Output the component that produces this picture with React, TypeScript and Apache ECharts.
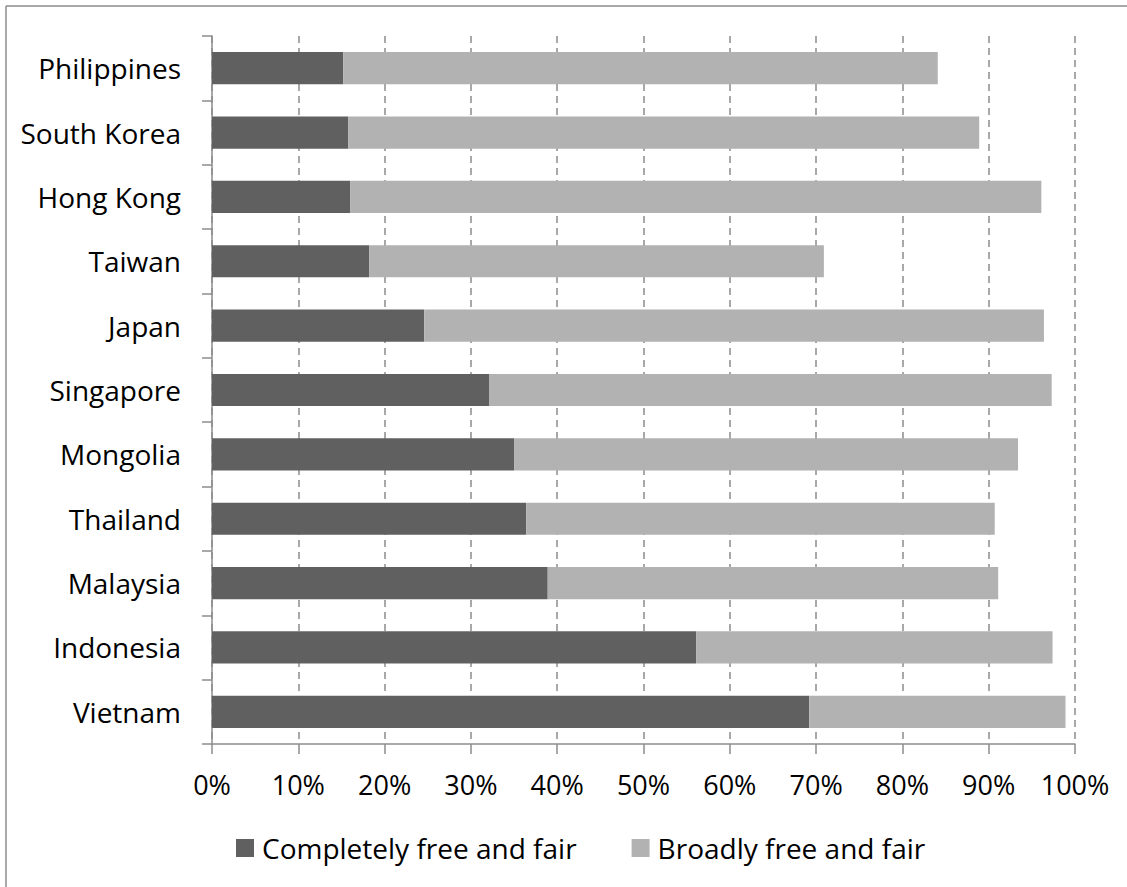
import React, { useEffect, useRef } from "react";
import * as echarts from "echarts";

const categories = [
  "Philippines",
  "South Korea",
  "Hong Kong",
  "Taiwan",
  "Japan",
  "Singapore",
  "Mongolia",
  "Thailand",
  "Malaysia",
  "Indonesia",
  "Vietnam",
];
const completelyFree = [15.2, 15.8, 16.0, 18.2, 24.6, 32.1, 35.0, 36.4, 38.9, 56.1, 69.2];
const broadlyFree = [68.9, 73.1, 80.1, 52.7, 71.8, 65.2, 58.4, 54.3, 52.2, 41.3, 29.7];
const xTicks = [0, 10, 20, 30, 40, 50, 60, 70, 80, 90, 100];

const FONT = "'Open Sans', Lato, sans-serif";

export default function App() {
  const ref = useRef<HTMLDivElement>(null);
  useEffect(() => {
    document.body.style.margin = "0";
    const chart = echarts.init(ref.current!, null, { renderer: "svg" });
    chart.setOption({
      animation: false,
      backgroundColor: "#ffffff",
      textStyle: { fontFamily: FONT },
      graphic: [
        {
          type: "line",
          shape: { x1: 6, y1: 6, x2: 1127, y2: 6 },
          style: { stroke: "#8c8c8c", lineWidth: 1.5 },
        },
        {
          type: "line",
          shape: { x1: 6, y1: 6, x2: 6, y2: 887 },
          style: { stroke: "#8c8c8c", lineWidth: 1.5 },
        },
      ],
      grid: { left: 212, right: 52, top: 36, bottom: 143, containLabel: false },
      legend: {
        left: 231,
        top: 829,
        icon: "rect",
        itemWidth: 18,
        itemHeight: 18,
        itemGap: 55,
        textStyle: {
          fontFamily: FONT,
          fontSize: 28,
          lineHeight: 28,
          color: "#000000",
          padding: [0, 0, 0, 3],
        },
        data: ["Completely free and fair", "Broadly free and fair"],
      },
      xAxis: {
        type: "value",
        min: 0,
        max: 100,
        interval: 10,
        axisLine: { show: true, lineStyle: { color: "#8c8c8c", width: 1.5 } },
        axisTick: { show: true, length: 10, lineStyle: { color: "#8c8c8c", width: 1.5 } },
        axisLabel: {
          margin: 27,
          fontFamily: FONT,
          fontSize: 27,
          color: "#000000",
          formatter: (v: number) => (xTicks.includes(v) ? v + "%" : ""),
        },
        splitLine: {
          show: true,
          lineStyle: { color: "#8c8c8c", width: 1.5, type: [7, 5] },
        },
      },
      yAxis: {
        type: "category",
        data: categories,
        inverse: true,
        axisLine: { show: true, lineStyle: { color: "#8c8c8c", width: 1.5 } },
        axisTick: {
          show: true,
          length: 10,
          interval: 0,
          alignWithLabel: false,
          lineStyle: { color: "#8c8c8c", width: 1.5 },
        },
        axisLabel: {
          margin: 31,
          fontFamily: FONT,
          fontSize: 28,
          color: "#000000",
        },
        splitLine: { show: false },
      },
      series: [
        {
          name: "Completely free and fair",
          type: "bar",
          stack: "total",
          barCategoryGap: "50%",
          data: completelyFree,
          itemStyle: { color: "#606060" },
        },
        {
          name: "Broadly free and fair",
          type: "bar",
          stack: "total",
          barCategoryGap: "50%",
          data: broadlyFree,
          itemStyle: { color: "#b2b2b2" },
        },
      ],
    });
    return () => chart.dispose();
  }, []);
  return <div ref={ref} style={{ width: 1127, height: 887 }} />;
}
